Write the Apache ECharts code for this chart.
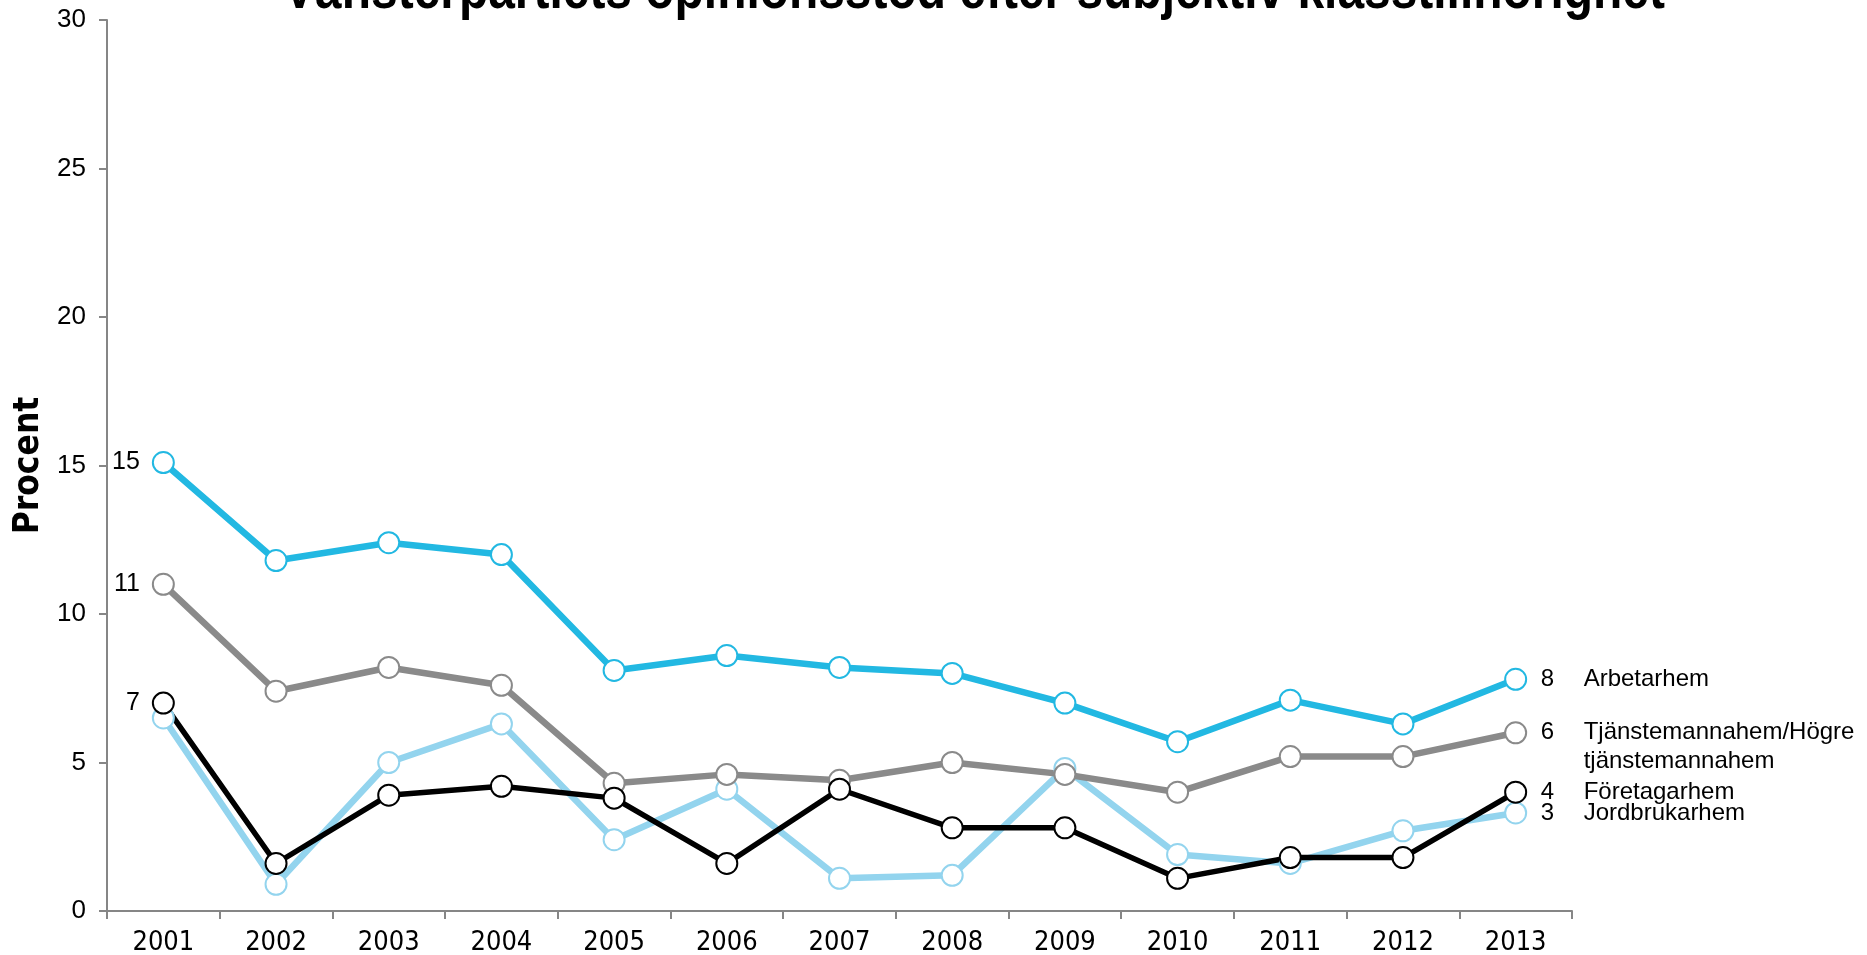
<!DOCTYPE html>
<html>
<head>
<meta charset="utf-8">
<script src="https://cdn.jsdelivr.net/npm/echarts@6/dist/echarts.min.js"></script>
<style>
html, body { margin: 0; padding: 0; background: #fff; }
#chart { width: 1867px; height: 955px; }
</style>
</head>
<body>
<div id="chart"></div>
<script>
// data
var years = ['2001', '2002', '2003', '2004', '2005', '2006', '2007', '2008', '2009', '2010', '2011', '2012', '2013'];
var arbetarhem = [15.1, 11.8, 12.4, 12.0, 8.1, 8.6, 8.2, 8.0, 7.0, 5.7, 7.1, 6.3, 7.8];
var tjanstemannahem = [11.0, 7.4, 8.2, 7.6, 4.3, 4.6, 4.4, 5.0, 4.6, 4.0, 5.2, 5.2, 6.0];
var jordbrukarhem = [6.5, 0.9, 5.0, 6.3, 2.4, 4.1, 1.1, 1.2, 4.8, 1.9, 1.6, 2.7, 3.3];
var foretagarhem = [7.0, 1.6, 3.9, 4.2, 3.8, 1.6, 4.1, 2.8, 2.8, 1.1, 1.8, 1.8, 4.0];
var yTicks = [0, 5, 10, 15, 20, 25, 30];

var narrow = 'DejaVu Sans Condensed, Liberation Sans Narrow, sans-serif';
var regular = 'Liberation Sans, Arial, sans-serif';

function startLabel(show) {
	return {
		show : show,
		position : 'left',
		distance : 12,
		color : '#000',
		fontFamily : regular,
		fontSize : 25,
		formatter : function(p) {
			return p.dataIndex === 0 ? String(Math.round(p.value)) : '';
		}
	};
}

function endLabel(lines, dy) {
	return {
		show : true,
		distance : 25,
		offset : [0, dy],
		formatter : function(p) {
			var v = Math.round(p.value);
			var s = '{v|' + v + '}{n|' + lines[0] + '}';
			for (var i = 1; i < lines.length; i++) {
				s += '\n{v| }{n|' + lines[i] + '}';
			}
			return s;
		},
		rich : {
			v : { width : 43, fontFamily : regular, fontSize : 24, color : '#000', lineHeight : 29 },
			n : { fontFamily : regular, fontSize : 24, color : '#000', lineHeight : 29 }
		}
	};
}

function makeSeries(name, data, color, width, showStart, lines, dy) {
	return {
		name : name,
		type : 'line',
		data : data,
		symbol : 'circle',
		symbolSize : 21,
		lineStyle : { color : color, width : width },
		itemStyle : { color : '#fff', borderColor : color, borderWidth : 2 },
		label : startLabel(showStart),
		endLabel : endLabel(lines, dy),
		emphasis : { disabled : true }
	};
}

var chart = echarts.init(document.getElementById('chart'));
var option = {
	animation : false,
	// title is squeezed horizontally like the original narrow bold face
	graphic : [ {
		type : 'text',
		x : 974,
		y : -8,
		scaleX : 0.826,
		style : {
			text : 'Vänsterpartiets opinionsstöd efter subjektiv klasstillhörighet',
			font : 'bold 58px "Liberation Sans", Arial, sans-serif',
			fill : '#000',
			align : 'center',
			verticalAlign : 'middle'
		}
	} ],
	grid : {
		left : 107,
		right : 295,
		top : 20,
		bottom : 44,
		outerBoundsMode : 'none'
	},
	xAxis : {
		type : 'category',
		data : years,
		boundaryGap : true,
		axisLine : { lineStyle : { color : '#868686', width : 2 } },
		axisTick : { show : true, length : 8, lineStyle : { color : '#868686', width : 2 } },
		axisLabel : {
			color : '#000',
			fontFamily : narrow,
			fontSize : 27,
			margin : 18
		},
		splitLine : { show : false }
	},
	yAxis : {
		type : 'value',
		min : yTicks[0],
		max : yTicks[yTicks.length - 1],
		interval : 5,
		name : 'Procent',
		nameLocation : 'middle',
		nameRotate : 90,
		nameGap : 57,
		nameTextStyle : {
			fontFamily : narrow,
			fontWeight : 'bold',
			fontSize : 35,
			color : '#000'
		},
		axisLine : { show : true, lineStyle : { color : '#868686', width : 2 } },
		axisTick : { show : true, length : 8, lineStyle : { color : '#868686', width : 2 } },
		axisLabel : {
			color : '#000',
			fontFamily : regular,
			fontSize : 26,
			margin : 21
		},
		splitLine : { show : false }
	},
	series : [
		makeSeries('Arbetarhem', arbetarhem, '#22b8e2', 6.5, true, ['Arbetarhem'], 0),
		makeSeries('Jordbrukarhem', jordbrukarhem, '#93d4ee', 6.5, false, ['Jordbrukarhem'], 0),
		makeSeries('Tjänstemannahem/Högre tjänstemannahem', tjanstemannahem, '#8a8a8a', 6.5, true, ['Tjänstemannahem/Högre', 'tjänstemannahem'], 14),
		makeSeries('Företagarhem', foretagarhem, '#000000', 5.5, true, ['Företagarhem'], 0)
	]
};
chart.setOption(option, true);
</script>
</body>
</html>
